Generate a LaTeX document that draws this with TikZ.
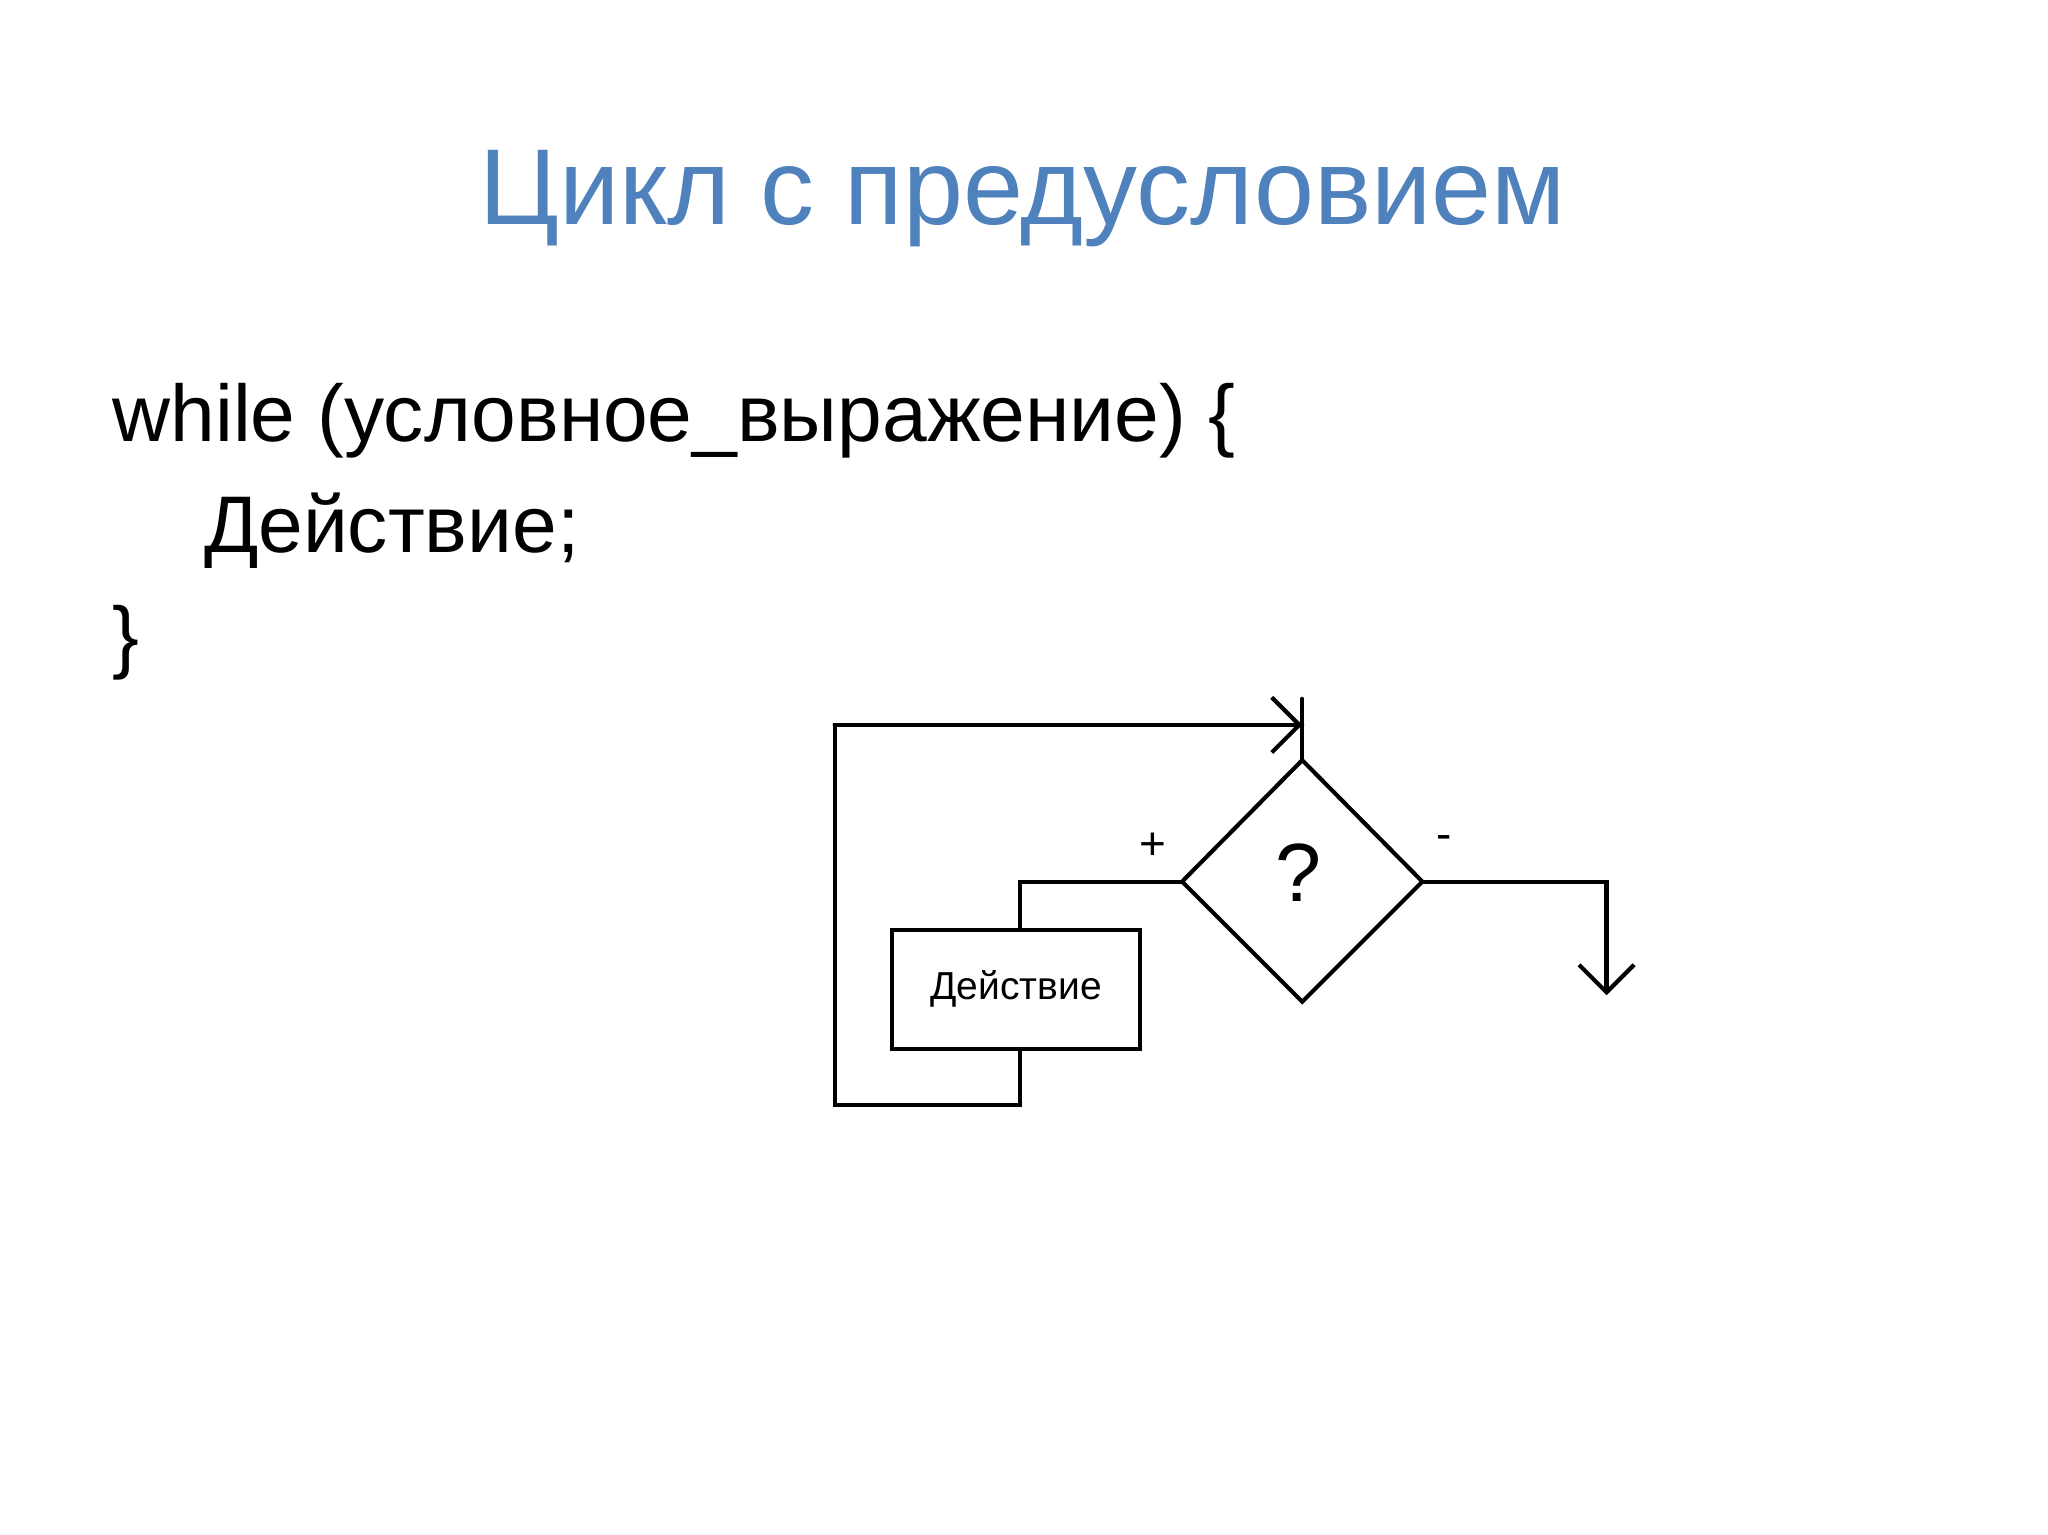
\documentclass[tikz,border=0pt]{standalone}
\usepackage{fontspec}
\setmainfont{Liberation Sans}
\usetikzlibrary{arrows.meta}
\definecolor{titleblue}{HTML}{4F81BD}
\begin{document}
\begin{tikzpicture}[x=0.02cm,y=-0.02cm,
  ln/.style={line width=1.8pt,line cap=round,line join=miter},
  tip/.style={-{Straight Barb[length=12pt,width=24pt,line width=1.8pt]}}]
\useasboundingbox (0,0) rectangle (1568,1175);
\node (title) at (783,152) {\fontsize{47}{56}\selectfont\color{titleblue}Цикл с предусловием};
\node[anchor=base west] (l1) at (80,338) {\fontsize{35}{42}\selectfont while (условное\_выражение) \{};
\node[anchor=base west] (l2) at (150,423) {\fontsize{35}{42}\selectfont Действие;};
\node[anchor=base west] (l3) at (80,508) {\fontsize{35}{42}\selectfont \}};
% diagram
\coordinate (dt) at (997,582);
\coordinate (dl) at (905,675);
\coordinate (dr) at (1089,675);
\coordinate (db) at (997,767);
\draw[ln] (dt) -- (dr) -- (db) -- (dl) -- cycle;
\node (q) at (994,668) {\fontsize{36}{40}\selectfont ?};
\node[draw,line width=1.8pt,minimum width=190*0.02cm,minimum height=91*0.02cm,inner sep=0pt] (box) at (778,757.5) {\fontsize{17}{20}\selectfont\bfseries\textmd{Действие}};
\coordinate (c1) at (781,675);
\coordinate (c2) at (781,846);
\coordinate (c3) at (639,846);
\coordinate (c4) at (639,555);
\coordinate (c5) at (997,555);
\coordinate (top) at (997,535);
\coordinate (r1) at (1230,675);
\coordinate (r2) at (1230,762);
\draw[ln] (dl) -- (c1) -- (box.north -| c1);
\draw[ln] (box.south -| c2) -- (c2) -- (c3) -- (c4) -- (c5);
\draw[ln,tip] (c4) -- (c5);
\draw[ln] (top) -- (dt);
\draw[ln,tip] (dr) -- (r1) -- (r2);
\node (plus) at (883,648) {\fontsize{20}{24}\selectfont +};
\node (minus) at (1106,645) {\fontsize{20}{24}\selectfont -};
\end{tikzpicture}
\end{document}
